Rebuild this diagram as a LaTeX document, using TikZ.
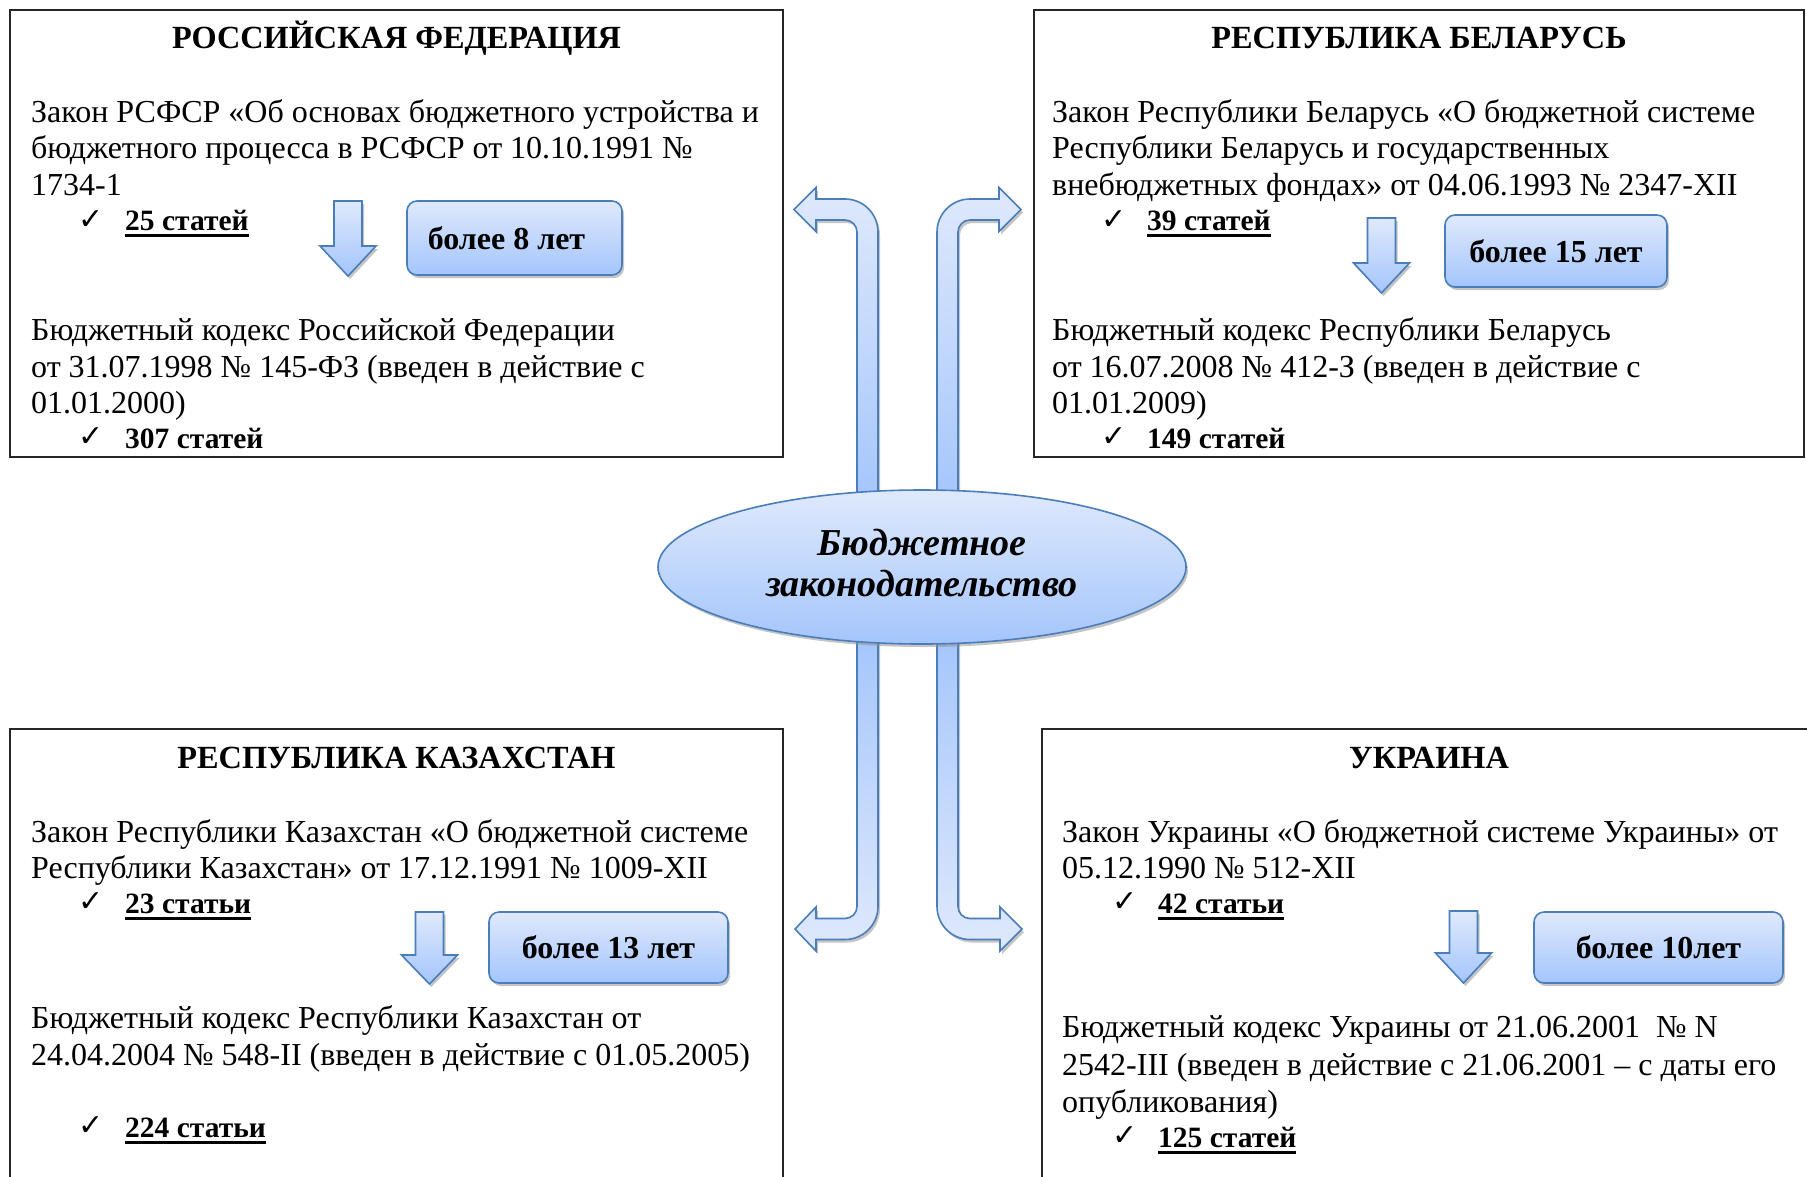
\documentclass[tikz,border=0pt]{standalone}
\usepackage{fontspec}
\setmainfont{Liberation Serif}
\newfontfamily\dejavu{DejaVu Sans}
\usetikzlibrary{shapes.geometric,shadows}
\definecolor{bluelight}{RGB}{223,233,252}
\definecolor{bluedark}{RGB}{164,197,252}
\definecolor{blueedge}{RGB}{74,126,187}
\newcommand\ulx[1]{\setbox0\hbox{#1}\rlap{\rule[-6.5pt]{\wd0}{2.8pt}}\box0}
\newcommand\dnarr[4]{%
  \path[bluefill] (#1-14,#2) -- (#1+14,#2) -- (#1+14,#3) -- (#1+28,#3) -- (#1,#4)
     -- (#1-28,#3) -- (#1-14,#3) -- cycle;}
\begin{document}
\begin{tikzpicture}[x=1pt,y=-1pt,
  bluefill/.style={top color=bluelight, bottom color=bluedark, draw=blueedge, line width=1.6pt,
     drop shadow={shadow xshift=2pt, shadow yshift=-3pt, fill=black!45, opacity=0.5}},
  upfill/.style={bluefill, top color=bluedark, bottom color=bluelight},
  yearbox/.style={bluefill, rounded corners=10pt, inner sep=0pt,
     font=\fontsize{32}{37}\selectfont\bfseries},
  frame/.style={draw=black!85, line width=1.3pt},
  txt/.style={anchor=base west, inner sep=0pt, font=\fontsize{32}{37}\selectfont},
  ttl/.style={anchor=base, inner sep=0pt, font=\fontsize{32.3}{37}\selectfont\bfseries},
  cnt/.style={anchor=base west, inner sep=0pt, font=\fontsize{29.5}{34}\selectfont\bfseries},
  chk/.style={anchor=base west, inner sep=0pt, font=\dejavu\fontsize{30}{32}\selectfont}]
\useasboundingbox[fill=white] (0,0) rectangle (1807,1176);

% frames
\draw[frame] (10,10) rectangle (783,457);
\draw[frame] (1034,10) rectangle (1804,457);
\draw[frame] (10,729) rectangle (783,1195);
\draw[frame] (1042,729) rectangle (1825,1195);

% central bent arrows
\path[bluefill] (857,505) -- (857,232) .. controls (857,225.4) and (851.6,220) .. (845,220)
  -- (816,220) -- (816,231.5) -- (794,209.5) -- (816,187.5) -- (816,199) -- (845,199)
  .. controls (863.2,199) and (878,213.8) .. (878,232) -- (878,505) -- cycle;
\path[bluefill] (958,505) -- (958,232) .. controls (958,225.4) and (963.4,220) .. (970,220)
  -- (999,220) -- (999,231.5) -- (1021,209.5) -- (999,187.5) -- (999,199) -- (970,199)
  .. controls (951.8,199) and (937,213.8) .. (937,232) -- (937,505) -- cycle;
\path[upfill] (857,630) -- (857,906.5) .. controls (857,913.1) and (851.6,918.5) .. (845,918.5)
  -- (816,918.5) -- (816,907) -- (795,929) -- (816,951) -- (816,939.5) -- (845,939.5)
  .. controls (863.2,939.5) and (878,924.7) .. (878,906.5) -- (878,630) -- cycle;
\path[upfill] (958,630) -- (958,906.5) .. controls (958,913.1) and (963.4,918.5) .. (970,918.5)
  -- (1000,918.5) -- (1000,907) -- (1022,929) -- (1000,951) -- (1000,939.5) -- (970,939.5)
  .. controls (951.8,939.5) and (937,924.7) .. (937,906.5) -- (937,630) -- cycle;

% central ellipse
\node[ellipse, bluefill, minimum width=528pt, minimum height=154pt, inner sep=0pt]
  (core) at (922,567) {};
\node[inner sep=0pt, align=center, font=\fontsize{38}{41}\selectfont\bfseries\itshape]
  (coretext) at (922,563) {Бюджетное\\законодательство};

% small down arrows
\dnarr{348}{201}{246}{276}
\dnarr{1381.5}{218}{263}{293}
\dnarr{429.5}{912}{955}{984}
\dnarr{1463.5}{911}{953}{983}

% year boxes
\node[yearbox, minimum width=215pt, minimum height=74pt] (yrf) at (514.5,238) {более 8 лет\hspace*{16pt}};
\node[yearbox, minimum width=222pt, minimum height=72pt] (yrb) at (1556,251) {более 15 лет};
\node[yearbox, minimum width=239pt, minimum height=71pt] (yrk) at (608.5,947.5) {более 13 лет};
\node[yearbox, minimum width=249pt, minimum height=71pt] (yua) at (1658.5,947.5) {более 10лет};

% Russia
\node[ttl] (trf) at (396.5,48) {РОССИЙСКАЯ ФЕДЕРАЦИЯ};
\node[txt] (rf1) at (31,122) {Закон РСФСР «Об основах бюджетного устройства и};
\node[txt] (rf2) at (31,158) {бюджетного процесса в РСФСР от 10.10.1991 №};
\node[txt] (rf3) at (31,195) {1734-1};
\node[chk] (crf1) at (78,229) {✓};
\node[cnt] (nrf1) at (125,230) {\ulx{25 статей}};
\node[txt] (rf4) at (31,340) {Бюджетный кодекс Российской Федерации};
\node[txt] (rf5) at (31,377) {от 31.07.1998 № 145-ФЗ (введен в действие с};
\node[txt] (rf6) at (31,413) {01.01.2000)};
\node[chk] (crf2) at (78,446) {✓};
\node[cnt] (nrf2) at (125,448) {307 статей};

% Belarus
\node[ttl] (trb) at (1419,48) {РЕСПУБЛИКА БЕЛАРУСЬ};
\node[txt] (rb1) at (1052,122) {Закон Республики Беларусь «О бюджетной системе};
\node[txt] (rb2) at (1052,158) {Республики Беларусь и государственных};
\node[txt] (rb3) at (1052,195) {внебюджетных фондах» от 04.06.1993 № 2347-XII};
\node[chk] (crb1) at (1101,229) {✓};
\node[cnt] (nrb1) at (1147,230) {\ulx{39 статей}};
\node[txt] (rb4) at (1052,340) {Бюджетный кодекс Республики Беларусь};
\node[txt] (rb5) at (1052,377) {от 16.07.2008 № 412-З (введен в действие с};
\node[txt] (rb6) at (1052,413) {01.01.2009)};
\node[chk] (crb2) at (1101,446) {✓};
\node[cnt] (nrb2) at (1147,448) {149 статей};

% Kazakhstan
\node[ttl] (trk) at (396.5,768) {РЕСПУБЛИКА КАЗАХСТАН};
\node[txt] (rk1) at (31,842) {Закон Республики Казахстан «О бюджетной системе};
\node[txt] (rk2) at (31,878) {Республики Казахстан» от 17.12.1991 № 1009-XII};
\node[chk] (crk1) at (78,911) {✓};
\node[cnt] (nrk1) at (125,913) {\ulx{23 статьи}};
\node[txt] (rk3) at (31,1028) {Бюджетный кодекс Республики Казахстан от};
\node[txt] (rk4) at (31,1065) {24.04.2004 № 548-II (введен в действие с 01.05.2005)};
\node[chk] (crk2) at (78,1135) {✓};
\node[cnt] (nrk2) at (125,1137) {\ulx{224 статьи}};

% Ukraine
\node[ttl] (tua) at (1429,768) {УКРАИНА};
\node[txt] (ua1) at (1062,842) {Закон Украины «О бюджетной системе Украины» от};
\node[txt] (ua2) at (1062,878) {05.12.1990 № 512-XII};
\node[chk] (cua1) at (1112,911) {✓};
\node[cnt] (nua1) at (1158,913) {\ulx{42 статьи}};
\node[txt] (ua3) at (1062,1037) {Бюджетный кодекс Украины от 21.06.2001 \ № N};
\node[txt] (ua4) at (1062,1075) {2542-III (введен в действие с 21.06.2001 – с даты его};
\node[txt] (ua5) at (1062,1112) {опубликования)};
\node[chk] (cua2) at (1112,1145) {✓};
\node[cnt] (nua2) at (1158,1147) {\ulx{125 статей}};
\end{tikzpicture}
\end{document}
